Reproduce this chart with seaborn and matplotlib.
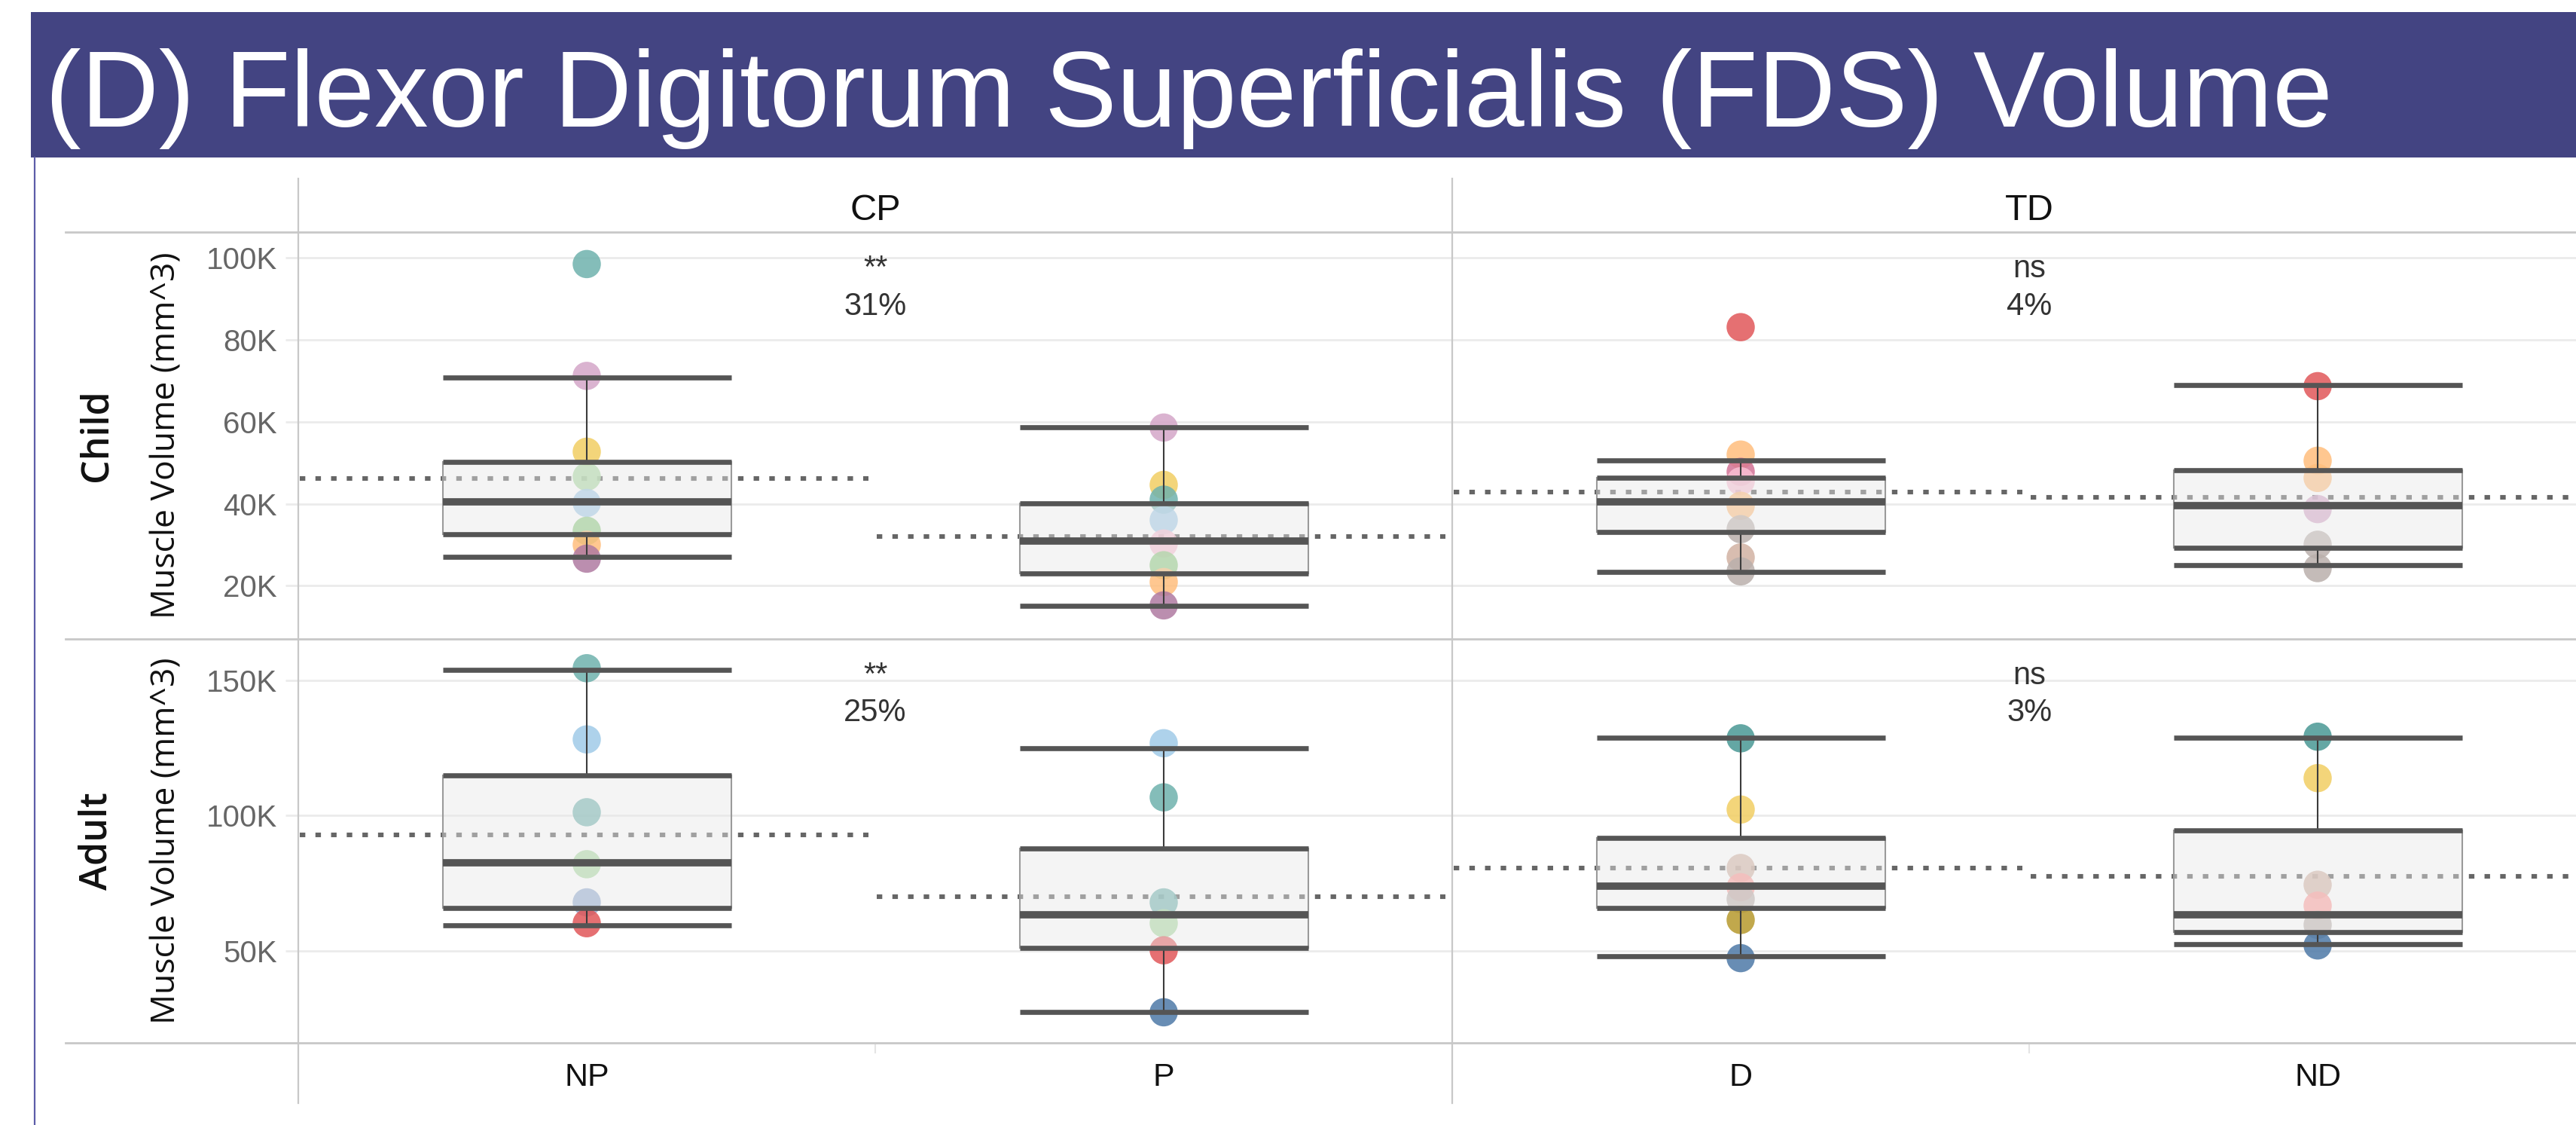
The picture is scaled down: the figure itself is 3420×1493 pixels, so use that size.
import matplotlib
matplotlib.use("Agg")
import matplotlib.pyplot as plt
import seaborn as sns
import pandas as pd
from matplotlib.lines import Line2D
from matplotlib.patches import Rectangle
from matplotlib.ticker import FuncFormatter, FixedLocator

# ---------------------------------------------------------------------------
# Data: FDS muscle volume, in thousands of mm^3
# ---------------------------------------------------------------------------
TEAL, LPURPLE, YELLOW = "#6fb2ad", "#D4A6C8", "#F1CE63"
LGREEN, GREEN, LBLUE, LPINK = "#A9D9A0", "#8CC97F", "#A0CBE8", "#FABFD2"
LORANGE, PURPLE, RED, MAGENTA = "#FFBE7D", "#B07AA1", "#E15759", "#D37295"
GREY, TAN, BLUE, OLIVE = "#BAB0AC", "#D2B2A3", "#4E79A7", "#B6992D"
DTEAL, PINK, LBLUE2 = "#499894", "#FF9D9A", "#8FA9CF"

# per-cell points
CHILD_NP_VALS = [98.5, 71.2, 52.7, 46.6, 40.2, 33.4, 30.0, 26.6]
CHILD_NP_COLS = [TEAL, LPURPLE, YELLOW, LGREEN, LBLUE, GREEN, LORANGE, PURPLE]
CHILD_P_VALS = [58.6, 44.6, 41.0, 36.0, 30.3, 25.0, 20.9, 15.2]
CHILD_P_COLS = [LPURPLE, YELLOW, TEAL, LBLUE, LPINK, GREEN, LORANGE, PURPLE]
CHILD_D_VALS = [83.1, 52.0, 47.8, 45.5, 39.5, 33.8, 26.9, 23.5]
CHILD_D_COLS = [RED, LORANGE, MAGENTA, LPINK, LORANGE, GREY, TAN, GREY]
CHILD_ND_VALS = [68.7, 50.5, 46.3, 38.7, 30.0, 24.3]
CHILD_ND_COLS = [RED, LORANGE, LORANGE, LPURPLE, GREY, GREY]

ADULT_NP_VALS = [154.4, 128.1, 101.2, 82.0, 67.9, 60.2]
ADULT_NP_COLS = [TEAL, LBLUE, TEAL, LGREEN, LBLUE2, RED]
ADULT_P_VALS = [126.7, 106.7, 67.9, 60.2, 50.2, 27.3]
ADULT_P_COLS = [LBLUE, TEAL, TEAL, LGREEN, RED, BLUE]
ADULT_D_VALS = [128.5, 102.2, 80.6, 73.5, 69.1, 61.4, 47.3]
ADULT_D_COLS = [DTEAL, YELLOW, TAN, PINK, GREY, OLIVE, BLUE]
ADULT_ND_VALS = [129.1, 113.8, 74.4, 66.7, 59.6, 52.0]
ADULT_ND_COLS = [DTEAL, YELLOW, TAN, PINK, GREY, BLUE]

# box stats per cell: whisker low, Q1, median, Q3, whisker high
CHILD_NP_BOX = [27.1, 32.5, 40.4, 50.2, 70.8]
CHILD_P_BOX = [15.0, 23.0, 30.9, 40.1, 58.7]
CHILD_D_BOX = [23.3, 33.2, 40.4, 46.4, 50.5]
CHILD_ND_BOX = [25.0, 29.2, 39.6, 48.2, 68.9]
ADULT_NP_BOX = [59.4, 65.8, 82.5, 114.9, 153.8]
ADULT_P_BOX = [27.5, 51.2, 63.2, 87.9, 124.9]
ADULT_D_BOX = [47.9, 65.8, 73.8, 91.6, 128.7]
ADULT_ND_BOX = [52.6, 56.9, 63.2, 94.6, 128.7]

# average reference lines per cell
CHILD_CP_REF = [46.1, 32.1]
CHILD_TD_REF = [42.9, 41.6]
ADULT_CP_REF = [92.9, 70.0]
ADULT_TD_REF = [80.5, 77.6]

# significance / percent difference
CHILD_CP_SIG = ["**", "31%"]
CHILD_TD_SIG = ["ns", "4%"]
ADULT_CP_SIG = ["**", "25%"]
ADULT_TD_SIG = ["ns", "3%"]

CP_SIDES = ["NP", "P"]
TD_SIDES = ["D", "ND"]
CHILD_TICKS = [20, 40, 60, 80, 100]
ADULT_TICKS = [50, 100, 150]

# ---------------------------------------------------------------------------
W, H = 3420, 1493
SANS = ["Liberation Sans", "DejaVu Sans"]
OPEN = ["Open Sans", "DejaVu Sans"]
DARK = "#555555"


def fx(px):
    return px / W


def fy(py):
    return 1 - py / H


def draw_panel(ax, sides, vals, cols, boxes, refs, sig, ylim, ticks, left, bottom):
    rows = []
    for s, vv, cc in zip(sides, vals, cols):
        for i, (v, c) in enumerate(zip(vv, cc)):
            rows.append({"side": s, "value": v, "pid": f"{s}_{i}", "color": c})
    df = pd.DataFrame(rows)
    pal = dict(zip(df["pid"], df["color"]))
    sns.stripplot(data=df, x="side", y="value", hue="pid", order=sides,
                  palette=pal, jitter=False, dodge=False, size=27, alpha=0.85,
                  linewidth=0, legend=False, ax=ax, zorder=3)

    stats = [dict(whislo=b[0], q1=b[1], med=b[2], q3=b[3], whishi=b[4], label=s)
             for s, b in zip(sides, boxes)]
    ax.bxp(stats, positions=[0, 1], widths=0.5, capwidths=0.5, patch_artist=True,
           showfliers=False, zorder=4,
           boxprops=dict(facecolor=(0.91, 0.91, 0.91, 0.45), edgecolor="#9a9a9a",
                         linewidth=1.5),
           medianprops=dict(color=DARK, linewidth=7.0, solid_capstyle="butt"),
           whiskerprops=dict(color="#3c3c3c", linewidth=1.5),
           capprops=dict(color=DARK, linewidth=4.8, solid_capstyle="butt"))
    for p, b in enumerate(boxes):
        ax.hlines([b[1], b[3]], p - 0.25, p + 0.25, colors=DARK, linewidth=4.8,
                  zorder=5, capstyle="butt")
    for p, r in enumerate(refs):
        ax.hlines(r, p - 0.497, p + 0.488, colors="#666666", linewidth=4.4,
                  linestyles=(0, (1.2, 2.2)), zorder=2)

    tr = ax.get_xaxis_transform()
    ax.text(0.5, 0.888, sig[0], transform=tr, ha="center", va="baseline",
            fontsize=30, color="#333333", family=SANS)
    ax.text(0.5, 0.797, sig[1], transform=tr, ha="center", va="baseline",
            fontsize=30, color="#333333", family=SANS)

    ax.set_xlim(-0.5, 1.5)
    ax.set_ylim(*ylim)
    ax.set_xlabel("")
    ax.set_ylabel("")
    for sp in ax.spines.values():
        sp.set_visible(False)
    ax.set_facecolor("none")
    ax.yaxis.set_major_locator(FixedLocator(ticks))
    ax.yaxis.set_major_formatter(FuncFormatter(lambda v, _: f"{v:.0f}K"))
    ax.grid(axis="y", color="#ebebeb", linewidth=2)
    ax.grid(axis="x", visible=False)
    ax.set_axisbelow(True)
    ax.tick_params(axis="y", length=12.2 if left else 0, width=2, color="#ebebeb",
                   pad=8, labelsize=29, labelcolor="#666666", labelleft=left)
    for t in ax.get_yticklabels():
        t.set_family(SANS)
    ax.set_xticks([0, 1])
    ax.set_xticklabels(sides)
    ax.set_xticks([0.5], minor=True)
    ax.tick_params(axis="x", which="major", length=0, pad=19, labelsize=31,
                   labelcolor="#111111", labelbottom=bottom)
    ax.tick_params(axis="x", which="minor", length=10 if bottom else 0, width=1.5,
                   color="#e4e4e4")
    for t in ax.get_xticklabels():
        t.set_family(SANS)


fig = plt.figure(figsize=(W / 100, H / 100), dpi=100)
fig.patch.set_facecolor("white")

# title banner
fig.add_artist(Rectangle((fx(41), fy(209)), 1 - fx(41), (209 - 16) / H,
                         transform=fig.transFigure, facecolor="#434482",
                         edgecolor="none", zorder=0))
fig.text(fx(60), fy(168), "(D) Flexor Digitorum Superficialis (FDS) Volume",
         color="white", fontsize=103, family=SANS, ha="left", va="baseline")
fig.add_artist(Line2D([fx(46), fx(46)], [fy(209), 0], color="#5c5ca8", lw=1.6))

# panel geometry (pixels in the 3420x1493 canvas)
col_x = {"CP": (396, 1928), "TD": (1928, 3460)}
row_y = {"Child": (308, 848), "Adult": (848, 1384)}
col_sides = {"CP": CP_SIDES, "TD": TD_SIDES}
panels = {
    ("Child", "CP"): ([CHILD_NP_VALS, CHILD_P_VALS], [CHILD_NP_COLS, CHILD_P_COLS],
                      [CHILD_NP_BOX, CHILD_P_BOX], CHILD_CP_REF, CHILD_CP_SIG),
    ("Child", "TD"): ([CHILD_D_VALS, CHILD_ND_VALS], [CHILD_D_COLS, CHILD_ND_COLS],
                      [CHILD_D_BOX, CHILD_ND_BOX], CHILD_TD_REF, CHILD_TD_SIG),
    ("Adult", "CP"): ([ADULT_NP_VALS, ADULT_P_VALS], [ADULT_NP_COLS, ADULT_P_COLS],
                      [ADULT_NP_BOX, ADULT_P_BOX], ADULT_CP_REF, ADULT_CP_SIG),
    ("Adult", "TD"): ([ADULT_D_VALS, ADULT_ND_VALS], [ADULT_D_COLS, ADULT_ND_COLS],
                      [ADULT_D_BOX, ADULT_ND_BOX], ADULT_TD_REF, ADULT_TD_SIG),
}
ylims = {"Child": (7.0, 106.3), "Adult": (16.0, 165.2)}
yticks = {"Child": CHILD_TICKS, "Adult": ADULT_TICKS}

for (age, grp), (vals, cols, boxes, refs, sig) in panels.items():
    x0, x1 = col_x[grp]
    y0, y1 = row_y[age]
    ax = fig.add_axes([fx(x0), fy(y1), (x1 - x0) / W, (y1 - y0) / H])
    draw_panel(ax, col_sides[grp], vals, cols, boxes, refs, sig, ylims[age],
               yticks[age], left=(grp == "CP"), bottom=(age == "Adult"))

# column headers
for grp, (x0, x1) in col_x.items():
    fig.text(fx((x0 + x1) / 2), fy(280), grp, ha="center", va="center",
             fontsize=35, color="#111111", family=SANS)

# row labels
for age, (y0, y1) in row_y.items():
    yc = fy((y0 + y1) / 2)
    fig.text(fx(128), yc, age, rotation=90, ha="center", va="center",
             fontsize=36, fontweight="semibold", color="#111111", family=OPEN)
    fig.text(fx(221), yc, "Muscle Volume (mm^3)", rotation=90, ha="center",
             va="center", fontsize=32, color="#111111", family=OPEN)

# separators
SEP = "#c8c8c8"
for py in (308, 848, 1384):
    fig.add_artist(Line2D([fx(87), 1], [fy(py), fy(py)], color=SEP, lw=2))
for px in (396, 1928):
    fig.add_artist(Line2D([fx(px), fx(px)], [fy(237), fy(1464)], color=SEP, lw=1.6))

fig.savefig("out.png", dpi=100, facecolor="white")
